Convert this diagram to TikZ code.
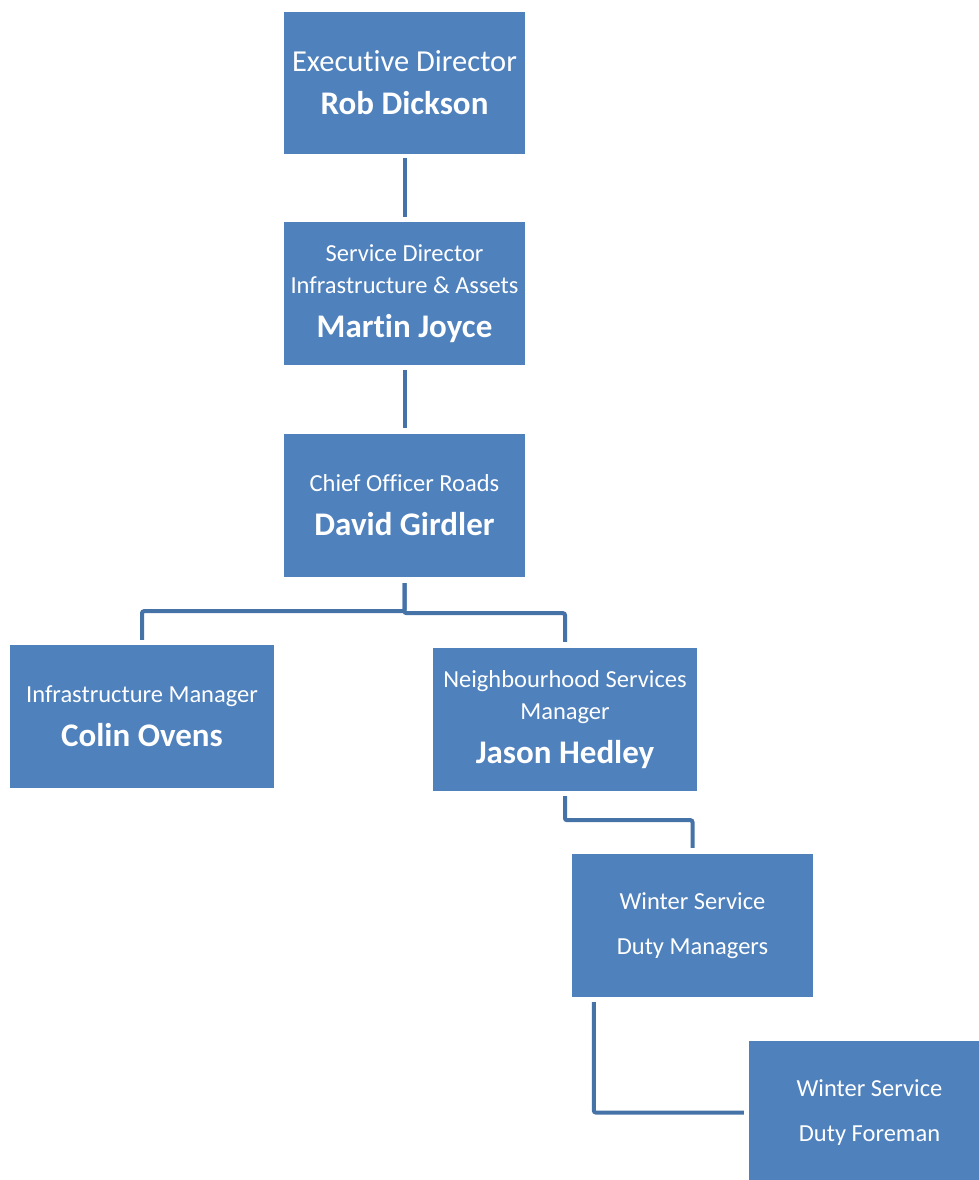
\documentclass[tikz,border=0pt]{standalone}
\usepackage{fontspec}
\setmainfont{Carlito}[Ligatures=CommonOff]
\definecolor{boxblue}{HTML}{4F81BD}
\definecolor{lineblue}{HTML}{4572A7}
\tikzset{
  orgbox/.style={draw=none, fill=boxblue, text=white, align=center, inner sep=0pt, minimum width=241pt, minimum height=143pt, font=\fontsize{24.5}{32}\selectfont},
  widebox/.style={orgbox, minimum width=264pt},
  conn/.style={draw=lineblue, line width=4pt, rounded corners=2pt}
}
\newcommand{\nm}[1]{{\fontsize{33}{32}\selectfont\bfseries #1}}
\begin{document}
\begin{tikzpicture}[x=1pt,y=1pt]
\useasboundingbox (0,0) rectangle (979,-1180);
\clip (0,0) rectangle (979,-1180);
\node[orgbox, minimum height=142pt] (ed) at (404.5,-83) {{\fontsize{30.5}{32}\selectfont Executive Director}\\[11pt]\nm{Rob Dickson}};
\node[orgbox] (sd) at (404.5,-293.5) {Service Director\\Infrastructure \& Assets\\[12pt]\nm{Martin Joyce}};
\node[orgbox] (co) at (404.5,-505.5) {Chief Officer Roads\\[12pt]\nm{David Girdler}};
\node[widebox] (im) at (142,-716.5) {Infrastructure Manager\\[12pt]\nm{Colin Ovens}};
\node[widebox] (jh) at (565,-719.5) {Neighbourhood Services\\Manager\\[12pt]\nm{Jason Hedley}};
\node[orgbox] (dm) at (692.5,-925.5) {Winter Service\\[13pt]Duty Managers};
\node[orgbox] (df) at (869.5,-1112.5) {Winter Service\\[13pt]Duty Foreman};
\draw[conn] ([yshift=-4pt]ed.south) -- ([yshift=5pt]sd.north);
\draw[conn] ([yshift=-5pt]sd.south) -- ([yshift=6pt]co.north);
\draw[conn] ([yshift=-6pt]co.south) -- ++(0,-28) -| ([yshift=5pt]im.north);
\draw[conn] ([yshift=-6pt]co.south) -- ++(0,-30) -| ([yshift=6pt]jh.north);
\draw[conn] ([yshift=-5pt]jh.south) -- ++(0,-24) -| ([yshift=6pt]dm.north);
\draw[conn] ([xshift=22pt,yshift=-5pt]dm.south west) |- ([xshift=-5pt]df.west);
\end{tikzpicture}
\end{document}
